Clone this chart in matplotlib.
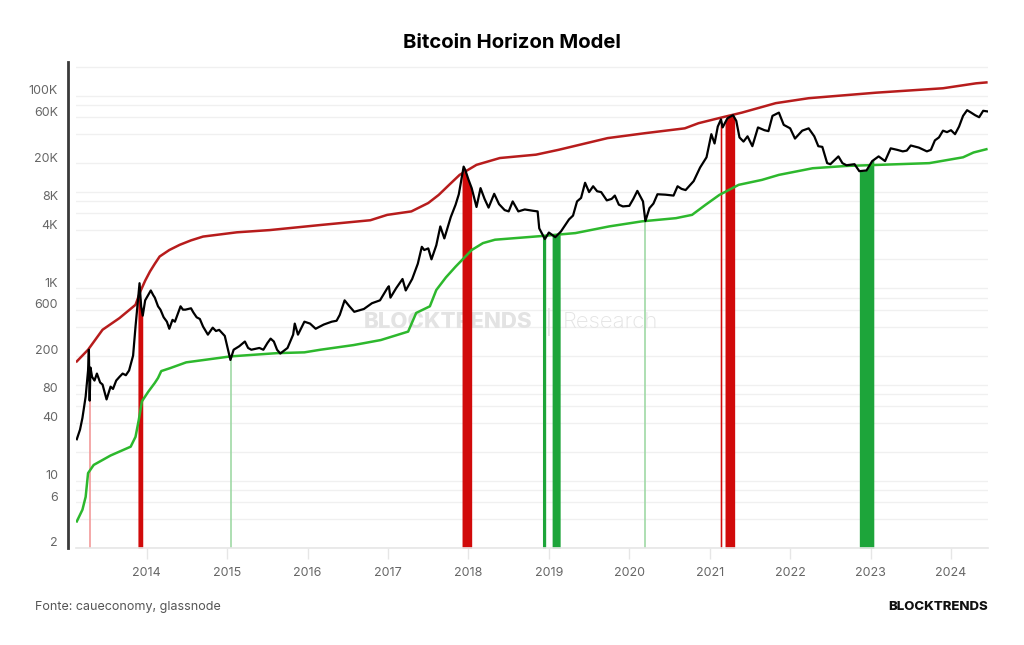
import numpy as np
import matplotlib
matplotlib.use("Agg")
import matplotlib.pyplot as plt
from matplotlib.transforms import ScaledTranslation

# ---------------- data (decimal years, USD) ----------------
price_t = [2013.13, 2013.17, 2013.20, 2013.24, 2013.27, 2013.28, 2013.29, 2013.30, 2013.32, 2013.35,
           2013.38, 2013.42, 2013.45, 2013.50, 2013.55, 2013.58, 2013.62, 2013.66, 2013.70, 2013.74,
           2013.78, 2013.83, 2013.86, 2013.91, 2013.93, 2013.95, 2013.98, 2014.05, 2014.08, 2014.10,
           2014.14, 2014.17, 2014.21, 2014.25, 2014.28, 2014.32, 2014.35, 2014.42, 2014.45, 2014.48,
           2014.55, 2014.58, 2014.62, 2014.66, 2014.70, 2014.76, 2014.82, 2014.86, 2014.90, 2014.97,
           2015.04, 2015.08, 2015.15, 2015.22, 2015.26, 2015.30, 2015.40, 2015.45, 2015.50, 2015.54,
           2015.58, 2015.62, 2015.66, 2015.75, 2015.82, 2015.84, 2015.88, 2015.96, 2016.03, 2016.10,
           2016.15, 2016.20, 2016.30, 2016.36, 2016.40, 2016.46, 2016.52, 2016.58, 2016.64, 2016.70,
           2016.80, 2016.90, 2016.99, 2017.01, 2017.03, 2017.10, 2017.18, 2017.22, 2017.30, 2017.37,
           2017.42, 2017.45, 2017.50, 2017.54, 2017.60, 2017.65, 2017.70, 2017.78, 2017.84, 2017.88,
           2017.94, 2017.96, 2018.00, 2018.04, 2018.10, 2018.15, 2018.20, 2018.25, 2018.32, 2018.38,
           2018.45, 2018.50, 2018.55, 2018.62, 2018.70, 2018.80, 2018.86, 2018.88, 2018.95, 2019.00,
           2019.08, 2019.15, 2019.25, 2019.30, 2019.35, 2019.40, 2019.45, 2019.50, 2019.55, 2019.60,
           2019.65, 2019.72, 2019.78, 2019.82, 2019.87, 2019.92, 2020.00, 2020.05, 2020.10, 2020.17,
           2020.20, 2020.25, 2020.30, 2020.35, 2020.45, 2020.55, 2020.60, 2020.65, 2020.70, 2020.80,
           2020.88, 2020.96, 2021.02, 2021.06, 2021.10, 2021.14, 2021.16, 2021.22, 2021.29, 2021.33,
           2021.37, 2021.42, 2021.47, 2021.53, 2021.60, 2021.68, 2021.73, 2021.78, 2021.86, 2021.92,
           2022.00, 2022.06, 2022.15, 2022.23, 2022.30, 2022.35, 2022.40, 2022.46, 2022.50, 2022.60,
           2022.65, 2022.70, 2022.80, 2022.86, 2022.95, 2023.02, 2023.10, 2023.18, 2023.25, 2023.33,
           2023.40, 2023.45, 2023.50, 2023.60, 2023.70, 2023.75, 2023.80, 2023.85, 2023.90, 2023.95,
           2024.00, 2024.05, 2024.10, 2024.15, 2024.20, 2024.25, 2024.30, 2024.35, 2024.40, 2024.45]
price_v = [27, 34, 45, 75, 140, 230, 68, 150, 120, 110,
           130, 105, 100, 70, 95, 90, 110, 120, 130, 125,
           140, 200, 400, 1130, 650, 520, 750, 950, 850, 800,
           650, 600, 500, 450, 380, 470, 450, 650, 600, 600,
           620, 560, 500, 480, 400, 330, 390, 360, 370, 320,
           180, 230, 250, 280, 240, 230, 240, 230, 270, 300,
           280, 230, 210, 240, 330, 430, 330, 450, 430, 380,
           400, 420, 450, 460, 530, 750, 650, 570, 590, 610,
           700, 750, 1000, 1050, 800, 1000, 1250, 950, 1250, 1800,
           2700, 2500, 2600, 2000, 2800, 4400, 3300, 5500, 7400, 9500,
           18400, 17000, 13500, 11000, 7000, 11000, 8500, 6900, 9600, 7500,
           6500, 6300, 8000, 6300, 6600, 6400, 6300, 4200, 3250, 3800,
           3400, 3900, 5200, 5700, 8000, 8700, 12500, 10000, 11500, 10200,
           10000, 8200, 8500, 9200, 7400, 7100, 7200, 8500, 10300, 8000,
           5000, 6800, 7600, 9500, 9400, 9200, 11500, 10800, 10500, 13000,
           18000, 23000, 40000, 32000, 48000, 57000, 47000, 58500, 63000, 55000,
           37000, 33500, 38000, 30000, 47000, 44000, 43000, 62000, 67000, 50000,
           46000, 36000, 43500, 46000, 38000, 30000, 29500, 20000, 19500, 23500,
           20000, 19000, 19500, 16500, 16800, 21000, 23500, 21000, 28500, 27500,
           26500, 27000, 30500, 29000, 26500, 27500, 34500, 37000, 43500, 42000,
           44000, 40000, 48000, 62000, 71000, 67000, 63000, 60000, 70000, 69000]

upper_t = [2013.13, 2013.27, 2013.45, 2013.66, 2013.86, 2013.92, 2013.98, 2014.04, 2014.10, 2014.16,
           2014.28, 2014.41, 2014.55, 2014.70, 2015.12, 2015.53, 2016.16, 2016.78, 2016.99, 2017.29,
           2017.50, 2017.63, 2017.76, 2017.89, 2018.10, 2018.39, 2018.84, 2019.12, 2019.73, 2020.20,
           2020.69, 2020.86, 2021.11, 2021.40, 2021.82, 2022.23, 2023.07, 2023.90, 2024.31, 2024.44]
upper_v = [174, 230, 371, 490, 674, 927, 1200, 1496, 1800, 2141,
           2500, 2832, 3150, 3450, 3820, 4030, 4550, 5100, 5800, 6300,
           7700, 9350, 11900, 15100, 19200, 22600, 24500, 27500, 36400, 41000,
           46000, 52000, 58600, 67000, 84000, 94600, 108000, 120000, 135000, 138000]

lower_t = [2013.13, 2013.20, 2013.24, 2013.27, 2013.34, 2013.55, 2013.80, 2013.86, 2013.90,
           2013.94, 2014.02, 2014.10, 2014.14, 2014.18, 2014.29, 2014.49, 2015.04, 2015.62,
           2015.96, 2016.16, 2016.57, 2016.91, 2017.25, 2017.35, 2017.52, 2017.60, 2017.72,
           2017.84, 2018.04, 2018.18, 2018.33, 2018.92, 2019.33, 2019.75, 2020.16, 2020.58,
           2020.78, 2020.95, 2021.12, 2021.36, 2021.65, 2021.86, 2022.28, 2022.70, 2023.11,
           2023.73, 2024.15, 2024.28, 2024.44]
lower_v = [3.78, 5.0, 6.8, 12, 14.6, 18.3, 22.6, 28.6, 42.6,
           67, 84.5, 104, 117, 138, 148, 170, 196, 212,
           216, 230, 257, 290, 355, 555, 650, 960, 1300,
           1680, 2500, 2950, 3200, 3500, 3750, 4400, 4970, 5360,
           5800, 7400, 9350, 11900, 13400, 15100, 17700, 18700, 19200,
           20000, 23000, 25800, 27900]

# signal bands: (start, end)
red_bands = [(2013.285, 2013.291), (2013.89, 2013.95), (2017.92, 2018.04),
             (2021.13, 2021.15), (2021.19, 2021.31)]
green_bands = [(2015.048, 2015.054), (2018.92, 2018.96), (2019.04, 2019.14),
               (2020.197, 2020.203), (2022.86, 2023.04)]

year_ticks = [2014, 2015, 2016, 2017, 2018, 2019, 2020, 2021, 2022, 2023, 2024]
y_label_vals = [2, 6, 10, 40, 80, 200, 600, 1000, 4000, 8000, 20000, 60000, 100000]
y_label_txt = ["2", "6", "10", "40", "80", "200", "600", "1K", "4K", "8K", "20K", "60K", "100K"]
grid_vals = [m * 10 ** k for k in range(0, 6) for m in (2, 4, 6, 8, 10) if 2 <= m * 10 ** k <= 200000]

# ---------------- figure ----------------
plt.rcParams['font.family'] = ['Inter', 'DejaVu Sans']
fig = plt.figure(figsize=(10.24, 6.45), dpi=100)
ax = fig.add_axes([76 / 1024, 1 - 548 / 645, (988 - 76) / 1024, (548 - 62) / 645])

ax.set_yscale('log')
ax.set_xlim(2013.12, 2024.46)
ax.set_ylim(2, 225000)

# grid
for g in grid_vals:
    ax.axhline(g, color='#f0f0f0', lw=1.0, zorder=0)

# watermark
ax.text(0.408, 0.465, "BLOCKTRENDS", transform=ax.transAxes, ha='center', va='center',
        fontsize=16, fontweight='heavy', color='#e3e3e3', zorder=1)
ax.text(0.518, 0.465, "|", transform=ax.transAxes, ha='center', va='center',
        fontsize=17, color='#e3e3e3', zorder=1)
ax.text(0.586, 0.465, "Research", transform=ax.transAxes, ha='center', va='center',
        fontsize=16, fontweight='light', color='#e3e3e3', zorder=1)

# bands (filled from bottom up to the price)
tt = np.linspace(2013.12, 2024.46, 40000)
logp = np.interp(tt, price_t, np.log10(price_v))
pp = 10 ** logp
for (s, e) in red_bands:
    if e - s < 0.01:
        ax.vlines((s + e) / 2, 2, 10 ** np.interp((s + e) / 2, price_t, np.log10(price_v)),
                  color='#f29a9a', lw=1.2, zorder=2)
    else:
        m = (tt >= s) & (tt <= e)
        ax.fill_between(tt[m], 2, pp[m], color='#d10a0a', lw=0, zorder=2)
for (s, e) in green_bands:
    if e - s < 0.01:
        ax.vlines((s + e) / 2, 2, 10 ** np.interp((s + e) / 2, price_t, np.log10(price_v)),
                  color='#9fd9a6', lw=1.2, zorder=2)
    else:
        m = (tt >= s) & (tt <= e)
        ax.fill_between(tt[m], 2, pp[m], color='#1da53a', lw=0, zorder=2)

# lines
ax.plot(upper_t, upper_v, color='#b71c1c', lw=1.8, zorder=3)
ax.plot(lower_t, lower_v, color='#2db82d', lw=1.8, zorder=3)
ax.plot(price_t, price_v, color='black', lw=1.6, zorder=4)

# axes styling
for s in ('top', 'right'):
    ax.spines[s].set_visible(False)
ax.spines['left'].set_position(('outward', 6))
ax.spines['left'].set_color('#3a3a3a')
ax.spines['left'].set_linewidth(2)
ax.spines['bottom'].set_color('#e6e6e6')
ax.spines['bottom'].set_linewidth(1.2)

ax.set_yticks(y_label_vals)
ax.set_yticklabels(y_label_txt)
ax.yaxis.set_minor_locator(matplotlib.ticker.NullLocator())
ax.tick_params(axis='y', length=0, pad=7, labelsize=9, labelcolor='#666666')
off = ScaledTranslation(0, 6 / 100, fig.dpi_scale_trans)
for lab in ax.get_yticklabels():
    lab.set_transform(lab.get_transform() + off)

ax.set_xticks(year_ticks)
ax.set_xticklabels([str(y) for y in year_ticks])
ax.tick_params(axis='x', length=8, width=1, color='#e6e6e6', pad=6, labelsize=9,
               labelcolor='#666666')

# title & footer
fig.text(0.5, 1 - 43 / 645, "Bitcoin Horizon Model", ha='center', va='center',
         fontsize=14.6, fontweight='bold', color='black')
fig.text(35 / 1024, 1 - 607 / 645, "Fonte: caueconomy, glassnode", ha='left', va='center',
         fontsize=9, color='#555555')
fig.text(988 / 1024, 1 - 607 / 645, "BLOCKTRENDS", ha='right', va='center',
         fontsize=9.5, fontweight='heavy', color='#111111')

fig.savefig("out.png", dpi=100, facecolor='white')
